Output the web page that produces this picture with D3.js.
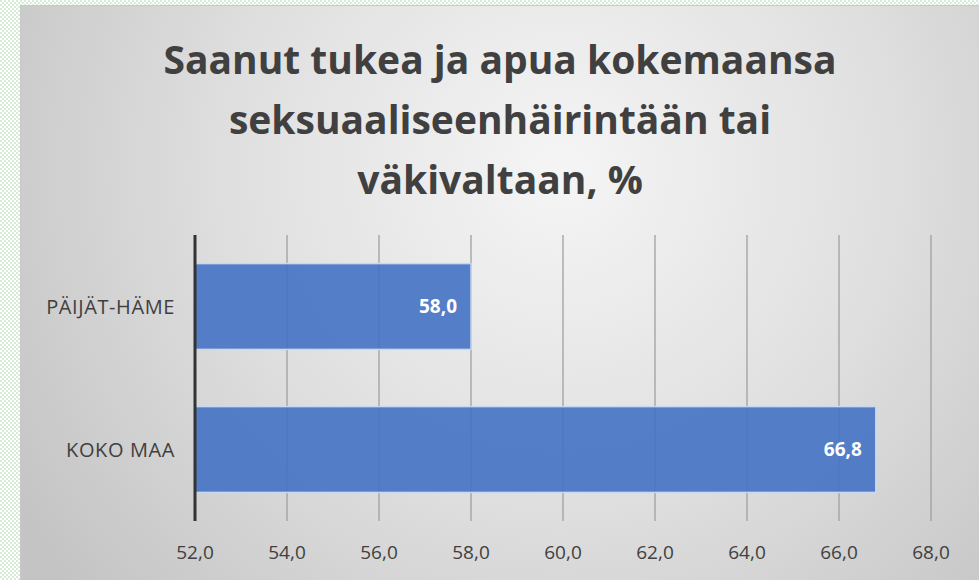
<!DOCTYPE html>
<html lang="fi">
<head>
<meta charset="UTF-8">
<title>Saanut tukea</title>
<style>
    body { margin: 0; background: #fff; }
    svg { display: block; }
</style>
</head>
<body>
<svg id="chart" width="979" height="580"></svg>
<script src="https://cdn.jsdelivr.net/npm/d3@7/dist/d3.min.js"></script>
<script>
    const titleLines = ["Saanut tukea ja apua kokemaansa", "seksuaaliseenhäirintään tai", "väkivaltaan, %"]
    const categories = ["PÄIJÄT-HÄME", "KOKO MAA"]
    const values = [58.0, 66.8]
    const ticks = [52, 54, 56, 58, 60, 62, 64, 66, 68]

    const W = 979, H = 580
    const font = "'Open Sans', 'Noto Sans', sans-serif"
    const svg = d3.select("#chart")
    const defs = svg.append("defs")

    // checker pattern showing through on the left/top
    const pat = defs.append("pattern").attr("id", "chk")
        .attr("width", 4).attr("height", 4).attr("patternUnits", "userSpaceOnUse")
    pat.append("rect").attr("width", 4).attr("height", 4).attr("fill", "#ffffff")
    pat.append("rect").attr("width", 2).attr("height", 2).attr("fill", "#d6ecd6")
    pat.append("rect").attr("x", 2).attr("y", 2).attr("width", 2).attr("height", 2).attr("fill", "#d6ecd6")

    const grad = defs.append("radialGradient").attr("id", "bg")
        .attr("gradientUnits", "userSpaceOnUse")
        .attr("cx", 560).attr("cy", 170).attr("r", 640)
    grad.append("stop").attr("offset", "0%").attr("stop-color", "#f5f5f5")
    grad.append("stop").attr("offset", "50%").attr("stop-color", "#e0e0e0")
    grad.append("stop").attr("offset", "100%").attr("stop-color", "#c4c4c4")

    svg.append("rect").attr("width", W).attr("height", H).attr("fill", "url(#chk)")
    svg.append("rect").attr("x", 20).attr("y", 5).attr("width", W).attr("height", H)
        .attr("fill", "#c8c8c8")
    svg.append("rect").attr("x", 21).attr("y", 6).attr("width", W).attr("height", H)
        .attr("fill", "url(#bg)")

    // title
    svg.append("text")
        .attr("text-anchor", "middle")
        .style("font-family", font)
        .style("font-weight", "bold")
        .style("font-size", "39px")
        .style("fill", "#404040")
        .selectAll("tspan")
        .data(titleLines)
        .enter()
        .append("tspan")
        .attr("x", 500)
        .attr("y", (d, i) => 74 + i * 60)
        .text(d => d)

    const x = d3.scaleLinear().domain([52, 68]).range([195, 931])
    const y = d3.scaleBand().domain(categories).range([235, 521])
        .paddingInner(0.4).paddingOuter(0.2)

    // gridlines
    svg.append("g")
        .selectAll("line")
        .data(ticks.slice(1))
        .enter()
        .append("line")
        .attr("x1", d => x(d)).attr("x2", d => x(d))
        .attr("y1", 235).attr("y2", 521)
        .attr("stroke", "#a0a0a0")
        .attr("stroke-width", 1.3)

    // bars
    const bars = svg.append("g")
        .selectAll("g")
        .data(categories)
        .enter()
        .append("g")

    bars.append("rect")
        .attr("x", x(52))
        .attr("y", d => y(d))
        .attr("width", (d, i) => x(values[i]) - x(52))
        .attr("height", y.bandwidth())
        .attr("fill", "#4472c4")
        .attr("fill-opacity", 0.9)
        .attr("stroke", "#c9d7f0")
        .attr("stroke-width", 1.5)

    bars.append("text")
        .attr("x", (d, i) => x(values[i]) - 14)
        .attr("y", d => y(d) + y.bandwidth() / 2)
        .attr("dy", ".35em")
        .attr("text-anchor", "end")
        .style("font-family", font)
        .style("font-weight", "bold")
        .style("font-size", "19px")
        .style("fill", "#ffffff")
        .text((d, i) => d3.format(".1f")(values[i]).replace(".", ","))

    // category labels
    svg.append("g")
        .selectAll("text")
        .data(categories)
        .enter()
        .append("text")
        .attr("x", 175)
        .attr("y", d => y(d) + y.bandwidth() / 2)
        .attr("dy", ".35em")
        .attr("text-anchor", "end")
        .style("font-family", font)
        .style("font-size", "20px")
        .style("letter-spacing", "0.6px")
        .style("fill", "#404040")
        .text(d => d)

    // axis line
    svg.append("line")
        .attr("x1", x(52)).attr("x2", x(52))
        .attr("y1", 235).attr("y2", 521)
        .attr("stroke", "#333")
        .attr("stroke-width", 3)

    // tick labels
    svg.append("g")
        .selectAll("text")
        .data(ticks)
        .enter()
        .append("text")
        .attr("x", d => x(d))
        .attr("y", 552)
        .attr("dy", ".35em")
        .attr("text-anchor", "middle")
        .style("font-family", font)
        .style("font-size", "19px")
        .style("fill", "#404040")
        .text(d => d3.format(".1f")(d).replace(".", ","))
</script>
</body>
</html>
